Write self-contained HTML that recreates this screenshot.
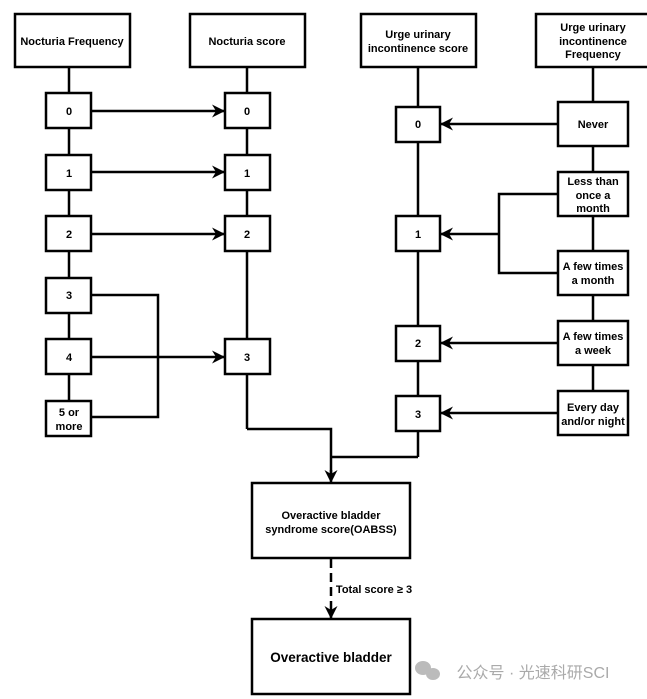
<!DOCTYPE html>
<html><head><style>
body{margin:0;background:#fff;}
svg{display:block;}
text{font-family:"Liberation Sans",Arial,sans-serif;font-weight:bold;fill:#000;text-anchor:middle;}
</style></head><body>
<svg width="647" height="699" viewBox="0 0 647 699" xmlns="http://www.w3.org/2000/svg">
<defs>
<marker id="a" markerWidth="13" markerHeight="13" refX="12" refY="6.5" orient="auto" markerUnits="userSpaceOnUse">
<path d="M0,0 L13,6.5 L0,13 L4,6.5 Z" fill="#000"/>
</marker>
</defs>
<g stroke="#000" stroke-width="2.5" fill="none">
<line x1="69" y1="67" x2="69" y2="401"/>
<line x1="247" y1="67" x2="247" y2="429"/>
<polyline points="247,429 331,429 331,480"/>
<line x1="418" y1="67" x2="418" y2="457"/>
<polyline points="418,457 331,457"/>
<line x1="593" y1="67" x2="593" y2="391"/>
<line x1="91" y1="111" x2="224" y2="111" marker-end="url(#a)"/>
<line x1="91" y1="172" x2="224" y2="172" marker-end="url(#a)"/>
<line x1="91" y1="234" x2="224" y2="234" marker-end="url(#a)"/>
<line x1="91" y1="357" x2="224" y2="357" marker-end="url(#a)"/>
<polyline points="91,295 158,295 158,417 91,417"/>
<line x1="558" y1="124" x2="441" y2="124" marker-end="url(#a)"/>
<line x1="499" y1="234" x2="441" y2="234" marker-end="url(#a)"/>
<polyline points="558,194 499,194 499,273 558,273"/>
<line x1="558" y1="343" x2="441" y2="343" marker-end="url(#a)"/>
<line x1="558" y1="413" x2="441" y2="413" marker-end="url(#a)"/>
<line x1="331" y1="470" x2="331" y2="482" marker-end="url(#a)"/>
<line x1="331" y1="559" x2="331" y2="618" stroke-dasharray="9,5" marker-end="url(#a)"/>
</g>
<g stroke="#000" stroke-width="2.5" fill="#fff">
<rect x="15" y="14" width="115" height="53"/>
<rect x="190" y="14" width="115" height="53"/>
<rect x="361" y="14" width="115" height="53"/>
<rect x="536" y="14" width="115" height="53"/>
<rect x="46" y="93" width="45" height="35"/>
<rect x="46" y="155" width="45" height="35"/>
<rect x="46" y="216" width="45" height="35"/>
<rect x="46" y="278" width="45" height="35"/>
<rect x="46" y="339" width="45" height="35"/>
<rect x="46" y="401" width="45" height="35"/>
<rect x="225" y="93" width="45" height="35"/>
<rect x="225" y="155" width="45" height="35"/>
<rect x="225" y="216" width="45" height="35"/>
<rect x="225" y="339" width="45" height="35"/>
<rect x="396" y="107" width="44" height="35"/>
<rect x="396" y="216" width="44" height="35"/>
<rect x="396" y="326" width="44" height="35"/>
<rect x="396" y="396" width="44" height="35"/>
<rect x="558" y="102" width="70" height="44"/>
<rect x="558" y="172" width="70" height="44"/>
<rect x="558" y="251" width="70" height="44"/>
<rect x="558" y="321" width="70" height="44"/>
<rect x="558" y="391" width="70" height="44"/>
<rect x="252" y="483" width="158" height="75"/>
<rect x="252" y="619" width="158" height="75"/>
</g>
<g font-size="11">
<text x="72" y="45">Nocturia Frequency</text>
<text x="247" y="45">Nocturia score</text>
<text x="418" y="38">Urge urinary</text>
<text x="418" y="52">incontinence score</text>
<text x="593" y="31">Urge urinary</text>
<text x="593" y="45">incontinence</text>
<text x="593" y="58">Frequency</text>
<text x="69" y="115">0</text><text x="69" y="177">1</text><text x="69" y="238">2</text>
<text x="69" y="299">3</text><text x="69" y="361">4</text>
<text x="69" y="416">5 or</text><text x="69" y="430">more</text>
<text x="247" y="115">0</text><text x="247" y="177">1</text><text x="247" y="238">2</text><text x="247" y="361">3</text>
<text x="418" y="128">0</text><text x="418" y="238">1</text><text x="418" y="347">2</text><text x="418" y="418">3</text>
<text x="593" y="128">Never</text>
<text x="593" y="185">Less than</text><text x="593" y="199">once a</text><text x="593" y="212">month</text>
<text x="593" y="270">A few times</text><text x="593" y="284">a month</text>
<text x="593" y="340">A few times</text><text x="593" y="354">a week</text>
<text x="593" y="411">Every day</text><text x="593" y="425">and/or night</text>
<text x="331" y="519">Overactive bladder</text>
<text x="331" y="533">syndrome score(OABSS)</text>
<text x="374" y="593">Total score ≥ 3</text>
</g>
<text x="331" y="662" font-size="13.5">Overactive bladder</text>
<g fill="#bbb">
<ellipse cx="423" cy="668" rx="8" ry="7"/><ellipse cx="433" cy="674" rx="7" ry="6"/>
</g>
<text x="533" y="678" font-size="16" style="font-weight:normal;fill:#aaa;font-family:'Liberation Sans','Noto Sans CJK SC',sans-serif">公众号 · 光速科研SCI</text>
</svg>
</body></html>
